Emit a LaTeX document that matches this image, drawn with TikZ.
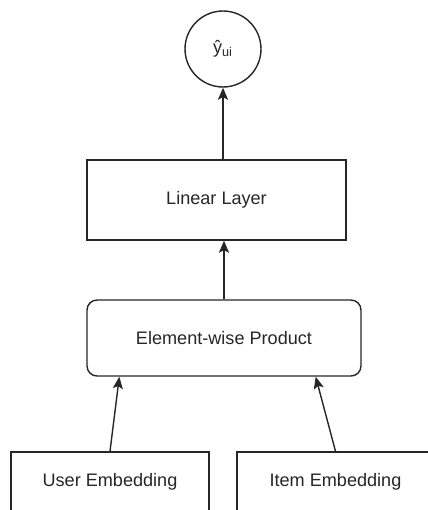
\documentclass[tikz,border=0pt]{standalone}
\usepackage{fontspec}
\setmainfont{Liberation Sans}
\usetikzlibrary{arrows.meta}
\begin{document}
\begin{tikzpicture}[x=0.02cm,y=-0.02cm,
        every node/.style={font=\fontsize{10.3}{12}\selectfont,text=black!85},
        box/.style={draw=black!85,line width=0.8pt},
        pred/.style={box,circle,minimum size=1.52cm,inner sep=0pt},
        arr/.style={draw=black!85,line width=0.8pt,-{Stealth[length=0.24cm,width=0.2cm,inset=0.05cm]}}]
                \clip (0,0) rectangle (428,510);
                \node[pred](yhat) at (223,49){ŷ\textsubscript{ui}};
                \node[box,minimum width=5.18cm,minimum height=1.6cm](lin) at (216.5,200){Linear Layer};
                \node[box,rounded corners=0.2cm,minimum width=5.48cm,minimum height=1.52cm](prod) at (224,338){Element-wise Product};
                \node[box,minimum width=3.96cm,minimum height=1.2cm](user) at (110,482){User Embedding};
                \node[box,minimum width=3.94cm,minimum height=1.2cm](item) at (335.5,482){Item Embedding};
                \draw[arr](yhat.south |- lin.north) -- (yhat.south);
                \draw[arr](prod.north) -- (prod.north |- lin.south);
                \draw[arr](user.north) -- ([xshift=0.66cm]prod.south west);
                \draw[arr](item.north) -- ([xshift=-0.92cm]prod.south east);
            \end{tikzpicture}
\end{document}
